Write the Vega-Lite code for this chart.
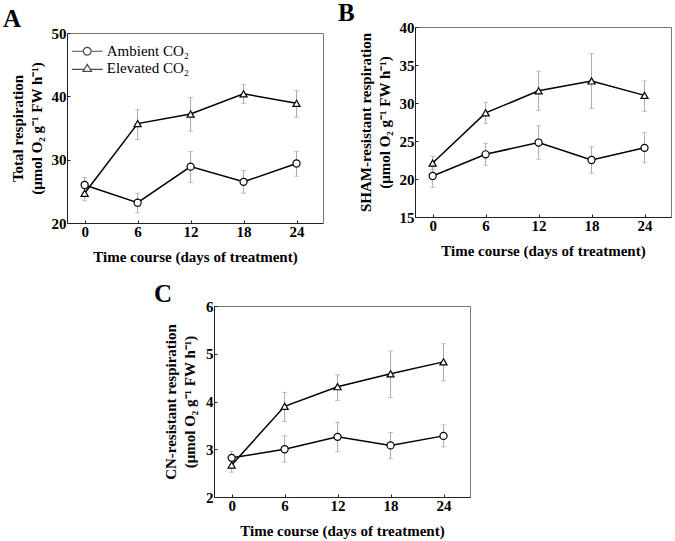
{
  "$schema": "https://vega.github.io/schema/vega-lite/v6.json",
  "padding": {"left": 3, "top": 0, "right": 0, "bottom": 0},
  "background": "white",
  "datasets": {
    "d": [
      {"panel": "A", "treatment": "Ambient CO₂", "day": 0, "mean": 26.0, "lo": 24.7, "hi": 27.2},
      {"panel": "A", "treatment": "Ambient CO₂", "day": 6, "mean": 23.2, "lo": 21.6, "hi": 24.7},
      {"panel": "A", "treatment": "Ambient CO₂", "day": 12, "mean": 28.9, "lo": 26.4, "hi": 31.3},
      {"panel": "A", "treatment": "Ambient CO₂", "day": 18, "mean": 26.5, "lo": 24.7, "hi": 28.3},
      {"panel": "A", "treatment": "Ambient CO₂", "day": 24, "mean": 29.4, "lo": 27.4, "hi": 31.3},
      {"panel": "A", "treatment": "Elevated CO₂", "day": 0, "mean": 24.7, "lo": 23.5, "hi": 26.0},
      {"panel": "A", "treatment": "Elevated CO₂", "day": 6, "mean": 35.7, "lo": 33.2, "hi": 37.9},
      {"panel": "A", "treatment": "Elevated CO₂", "day": 12, "mean": 37.2, "lo": 34.5, "hi": 39.8},
      {"panel": "A", "treatment": "Elevated CO₂", "day": 18, "mean": 40.4, "lo": 38.9, "hi": 41.9},
      {"panel": "A", "treatment": "Elevated CO₂", "day": 24, "mean": 38.9, "lo": 36.7, "hi": 40.9},
      {"panel": "B", "treatment": "Ambient CO₂", "day": 0, "mean": 20.4, "lo": 18.9, "hi": 21.6},
      {"panel": "B", "treatment": "Ambient CO₂", "day": 6, "mean": 23.25, "lo": 21.8, "hi": 24.7},
      {"panel": "B", "treatment": "Ambient CO₂", "day": 12, "mean": 24.8, "lo": 22.6, "hi": 27.0},
      {"panel": "B", "treatment": "Ambient CO₂", "day": 18, "mean": 22.5, "lo": 20.75, "hi": 24.25},
      {"panel": "B", "treatment": "Ambient CO₂", "day": 24, "mean": 24.1, "lo": 22.15, "hi": 26.1},
      {"panel": "B", "treatment": "Elevated CO₂", "day": 0, "mean": 22.1, "lo": 21.2, "hi": 23.0},
      {"panel": "B", "treatment": "Elevated CO₂", "day": 6, "mean": 28.7, "lo": 27.3, "hi": 30.1},
      {"panel": "B", "treatment": "Elevated CO₂", "day": 12, "mean": 31.6, "lo": 29.0, "hi": 34.2},
      {"panel": "B", "treatment": "Elevated CO₂", "day": 18, "mean": 32.9, "lo": 29.3, "hi": 36.5},
      {"panel": "B", "treatment": "Elevated CO₂", "day": 24, "mean": 31.0, "lo": 28.9, "hi": 32.9},
      {"panel": "C", "treatment": "Ambient CO₂", "day": 0, "mean": 2.82, "lo": 2.68, "hi": 2.96},
      {"panel": "C", "treatment": "Ambient CO₂", "day": 6, "mean": 3.0, "lo": 2.73, "hi": 3.28},
      {"panel": "C", "treatment": "Ambient CO₂", "day": 12, "mean": 3.26, "lo": 2.95, "hi": 3.56},
      {"panel": "C", "treatment": "Ambient CO₂", "day": 18, "mean": 3.08, "lo": 2.8, "hi": 3.35},
      {"panel": "C", "treatment": "Ambient CO₂", "day": 24, "mean": 3.28, "lo": 3.05, "hi": 3.51},
      {"panel": "C", "treatment": "Elevated CO₂", "day": 0, "mean": 2.67, "lo": 2.52, "hi": 2.82},
      {"panel": "C", "treatment": "Elevated CO₂", "day": 6, "mean": 3.9, "lo": 3.58, "hi": 4.19},
      {"panel": "C", "treatment": "Elevated CO₂", "day": 12, "mean": 4.31, "lo": 4.02, "hi": 4.56},
      {"panel": "C", "treatment": "Elevated CO₂", "day": 18, "mean": 4.58, "lo": 4.08, "hi": 5.06},
      {"panel": "C", "treatment": "Elevated CO₂", "day": 24, "mean": 4.83, "lo": 4.43, "hi": 5.21}
    ]
  },
  "data": {"name": "d"},
  "config": {
    "font": "Liberation Serif",
    "view": {"stroke": "#777", "strokeWidth": 1},
    "axis": {
      "grid": false,
      "labelFont": "Liberation Serif",
      "labelFontWeight": "bold",
      "labelFontSize": 15,
      "labelColor": "black",
      "labelPadding": 4,
      "titleFont": "Liberation Serif",
      "titleFontWeight": "bold",
      "titleFontSize": 15,
      "titleColor": "black",
      "domainColor": "#222",
      "tickColor": "#222",
      "tickSize": -3
    },
    "axisY": {"titlePadding": 7, "titleLineHeight": 19},
    "axisX": {"titlePadding": 10},
    "title": {"font": "Liberation Serif", "fontSize": 25, "fontWeight": "bold", "color": "black", "anchor": "start", "frame": "bounds", "offset": -6}
  },
  "spacing": 17,
  "vconcat": [
    {
      "spacing": 14,
      "hconcat": [
        {
          "width": 256,
          "height": 196,
          "view": {"stroke": null},
          "title": {"text": "A", "dx": -7},
          "transform": [{"filter": "datum.panel === 'A'"}],
          "resolve": {"scale": {"shape": "independent"}, "axis": {"x": "independent", "y": "independent"}},
          "layer": [
            {"mark": {"type": "rule", "color": "#aaa", "strokeWidth": 1},
             "encoding": {
               "x": {"field": "day", "type": "quantitative", "scale": {"domain": [-2, 27], "nice": false, "zero": false}, "axis": null},
               "y": {"field": "lo", "type": "quantitative", "scale": {"domain": [20, 50], "range": [196, 6], "nice": false, "zero": false}, "axis": null},
               "y2": {"field": "hi"}}},
            {"mark": {"type": "tick", "orient": "horizontal", "size": 5, "thickness": 1, "color": "#aaa"},
             "encoding": {
               "x": {"field": "day", "type": "quantitative", "scale": {"domain": [-2, 27], "nice": false, "zero": false}, "axis": null},
               "y": {"field": "lo", "type": "quantitative", "scale": {"domain": [20, 50], "range": [196, 6], "nice": false, "zero": false}, "axis": null}}},
            {"mark": {"type": "tick", "orient": "horizontal", "size": 5, "thickness": 1, "color": "#aaa"},
             "encoding": {
               "x": {"field": "day", "type": "quantitative", "scale": {"domain": [-2, 27], "nice": false, "zero": false}, "axis": null},
               "y": {"field": "hi", "type": "quantitative", "scale": {"domain": [20, 50], "range": [196, 6], "nice": false, "zero": false}, "axis": null}}},
            {"mark": {"type": "line", "color": "black", "strokeWidth": 1.5},
             "encoding": {
               "x": {"field": "day", "type": "quantitative", "scale": {"domain": [-2, 27], "nice": false, "zero": false}, "axis": null},
               "y": {"field": "mean", "type": "quantitative", "scale": {"domain": [20, 50], "range": [196, 6], "nice": false, "zero": false}, "axis": null},
               "detail": {"field": "treatment"}}},
            {"mark": {"type": "point", "filled": true, "fill": "white", "stroke": "black", "strokeWidth": 1.2, "size": 50, "opacity": 1},
             "encoding": {
               "x": {"field": "day", "type": "quantitative", "scale": {"domain": [-2, 27], "nice": false, "zero": false}, "axis": {"values": [0, 6, 12, 18, 24], "title": "Time course (days of treatment)"}},
               "y": {"field": "mean", "type": "quantitative", "scale": {"domain": [20, 50], "range": [196, 6], "nice": false, "zero": false}, "axis": {"values": [20, 30, 40, 50], "title": ["Total respiration", "(μmol O₂ g⁻¹ FW h⁻¹)"]}},
               "shape": {"field": "treatment", "type": "nominal", "scale": {"domain": ["Ambient CO₂", "Elevated CO₂"], "range": ["circle", "triangle-up"]}, "legend": null}
             }},
            {"mark": {"type": "point", "opacity": 0},
             "encoding": {
               "x": {"field": "day", "type": "quantitative", "scale": {"domain": [-2, 27], "nice": false, "zero": false}, "axis": {"orient": "top", "labels": false, "ticks": false, "title": null, "offset": -6, "domainColor": "#777"}},
               "y": {"field": "mean", "type": "quantitative", "scale": {"domain": [20, 50], "range": [196, 6], "nice": false, "zero": false}, "axis": {"orient": "right", "labels": false, "ticks": false, "title": null, "domainColor": "#777"}}
             }},
            {"transform": [{"filter": "false"}],
             "mark": {"type": "point", "filled": false, "color": "black", "strokeWidth": 1.2},
             "encoding": {
               "shape": {"field": "treatment", "type": "nominal",
                 "scale": {"domain": ["Ambient CO₂", "Elevated CO₂"], "range": ["M-2,0H-0.5M0.5,0A0.5,0.5,0,1,1,-0.5,0A0.5,0.5,0,1,1,0.5,0M0.5,0H2", "M-2,0.15H-0.4M0.4,0.15H2M0,-0.5L0.55,0.4L-0.55,0.4Z"]},
                 "legend": {"orient": "none", "legendX": 0, "legendY": 4, "title": null, "padding": 11.75, "symbolSize": 240, "labelOffset": 11, "rowPadding": -3.5, "labelFont": "Liberation Serif", "labelFontSize": 15, "labelFontWeight": "normal", "labelColor": "black", "symbolStrokeColor": "black", "symbolFillColor": "white", "symbolStrokeWidth": 1.2}}
             }}
          ]
        },
        {
          "width": 256,
          "height": 190,
          "title": {"text": "B", "dx": -20},
          "transform": [{"filter": "datum.panel === 'B'"}],
          "encoding": {
            "x": {"field": "day", "type": "quantitative", "scale": {"domain": [-2, 27], "nice": false, "zero": false}, "axis": {"values": [0, 6, 12, 18, 24], "title": "Time course (days of treatment)"}}
          },
          "layer": [
            {"mark": {"type": "rule", "color": "#aaa", "strokeWidth": 1},
             "encoding": {"y": {"field": "lo", "type": "quantitative", "scale": {"domain": [15, 40], "nice": false, "zero": false}, "axis": {"values": [15, 20, 25, 30, 35, 40], "title": ["SHAM-resistant respiration", "(μmol O₂ g⁻¹ FW h⁻¹)"]}}, "y2": {"field": "hi"}}},
            {"mark": {"type": "tick", "orient": "horizontal", "size": 5, "thickness": 1, "color": "#aaa"},
             "encoding": {"y": {"field": "lo", "type": "quantitative", "scale": {"domain": [15, 40], "nice": false, "zero": false}, "axis": {"values": [15, 20, 25, 30, 35, 40], "title": ["SHAM-resistant respiration", "(μmol O₂ g⁻¹ FW h⁻¹)"]}}}},
            {"mark": {"type": "tick", "orient": "horizontal", "size": 5, "thickness": 1, "color": "#aaa"},
             "encoding": {"y": {"field": "hi", "type": "quantitative", "scale": {"domain": [15, 40], "nice": false, "zero": false}, "axis": {"values": [15, 20, 25, 30, 35, 40], "title": ["SHAM-resistant respiration", "(μmol O₂ g⁻¹ FW h⁻¹)"]}}}},
            {"mark": {"type": "line", "color": "black", "strokeWidth": 1.5},
             "encoding": {"y": {"field": "mean", "type": "quantitative", "scale": {"domain": [15, 40], "nice": false, "zero": false}, "axis": {"values": [15, 20, 25, 30, 35, 40], "title": ["SHAM-resistant respiration", "(μmol O₂ g⁻¹ FW h⁻¹)"]}}, "detail": {"field": "treatment"}}},
            {"mark": {"type": "point", "filled": true, "fill": "white", "stroke": "black", "strokeWidth": 1.2, "size": 50, "opacity": 1},
             "encoding": {
               "y": {"field": "mean", "type": "quantitative", "scale": {"domain": [15, 40], "nice": false, "zero": false}, "axis": {"values": [15, 20, 25, 30, 35, 40], "title": ["SHAM-resistant respiration", "(μmol O₂ g⁻¹ FW h⁻¹)"]}},
               "shape": {"field": "treatment", "type": "nominal", "scale": {"domain": ["Ambient CO₂", "Elevated CO₂"], "range": ["circle", "triangle-up"]}, "legend": null}
             }}
          ]
        }
      ]
    },
    {
      "spacing": 85,
      "hconcat": [
        {"width": 1, "height": 1, "view": {"stroke": null}, "data": {"values": []}, "mark": "point"},
        {
          "width": 256,
          "height": 191,
          "title": {"text": "C", "dx": -9.5, "offset": -8},
          "transform": [{"filter": "datum.panel === 'C'"}],
          "encoding": {
            "x": {"field": "day", "type": "quantitative", "scale": {"domain": [-2, 27], "nice": false, "zero": false}, "axis": {"values": [0, 6, 12, 18, 24], "title": "Time course (days of treatment)"}}
          },
          "layer": [
            {"mark": {"type": "rule", "color": "#aaa", "strokeWidth": 1},
             "encoding": {"y": {"field": "lo", "type": "quantitative", "scale": {"domain": [2, 6], "nice": false, "zero": false}, "axis": {"values": [2, 3, 4, 5, 6], "titlePadding": 8, "title": ["CN-resistant respiration", "(μmol O₂ g⁻¹ FW h⁻¹)"]}}, "y2": {"field": "hi"}}},
            {"mark": {"type": "tick", "orient": "horizontal", "size": 5, "thickness": 1, "color": "#aaa"},
             "encoding": {"y": {"field": "lo", "type": "quantitative", "scale": {"domain": [2, 6], "nice": false, "zero": false}, "axis": {"values": [2, 3, 4, 5, 6], "titlePadding": 8, "title": ["CN-resistant respiration", "(μmol O₂ g⁻¹ FW h⁻¹)"]}}}},
            {"mark": {"type": "tick", "orient": "horizontal", "size": 5, "thickness": 1, "color": "#aaa"},
             "encoding": {"y": {"field": "hi", "type": "quantitative", "scale": {"domain": [2, 6], "nice": false, "zero": false}, "axis": {"values": [2, 3, 4, 5, 6], "titlePadding": 8, "title": ["CN-resistant respiration", "(μmol O₂ g⁻¹ FW h⁻¹)"]}}}},
            {"mark": {"type": "line", "color": "black", "strokeWidth": 1.5},
             "encoding": {"y": {"field": "mean", "type": "quantitative", "scale": {"domain": [2, 6], "nice": false, "zero": false}, "axis": {"values": [2, 3, 4, 5, 6], "titlePadding": 8, "title": ["CN-resistant respiration", "(μmol O₂ g⁻¹ FW h⁻¹)"]}}, "detail": {"field": "treatment"}}},
            {"mark": {"type": "point", "filled": true, "fill": "white", "stroke": "black", "strokeWidth": 1.2, "size": 50, "opacity": 1},
             "encoding": {
               "y": {"field": "mean", "type": "quantitative", "scale": {"domain": [2, 6], "nice": false, "zero": false}, "axis": {"values": [2, 3, 4, 5, 6], "titlePadding": 8, "title": ["CN-resistant respiration", "(μmol O₂ g⁻¹ FW h⁻¹)"]}},
               "shape": {"field": "treatment", "type": "nominal", "scale": {"domain": ["Ambient CO₂", "Elevated CO₂"], "range": ["circle", "triangle-up"]}, "legend": null}
             }}
          ]
        }
      ]
    }
  ]
}
